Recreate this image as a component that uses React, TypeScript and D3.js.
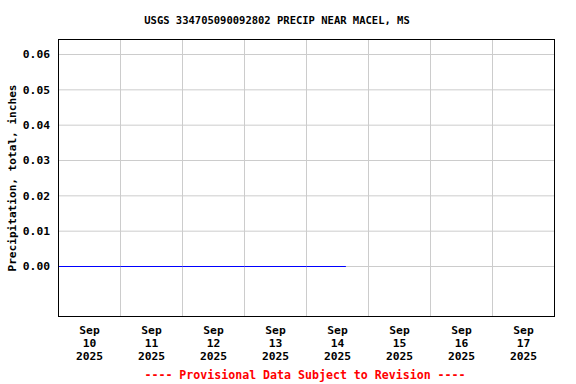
import React, { useEffect, useRef } from 'react';
import * as d3 from 'd3';

// precipitation readings (inches), all zero so far
const times = ['2025-09-10T00:00', '2025-09-11T00:00', '2025-09-12T00:00', '2025-09-13T00:00', '2025-09-14T00:00', '2025-09-14T15:15'];
const values = [0, 0, 0, 0, 0, 0];
const yTicks = [0, 0.01, 0.02, 0.03, 0.04, 0.05, 0.06];
const dayTicks = ['2025-09-10', '2025-09-11', '2025-09-12', '2025-09-13', '2025-09-14', '2025-09-15', '2025-09-16', '2025-09-17'];

const W = 576;
const H = 384;
const FONT = '"DejaVu Sans Mono", "Liberation Mono", monospace';

const App = () => {
  const svgRef = useRef<SVGSVGElement>(null);

  useEffect(() => {
    const svg = d3.select(svgRef.current);
    svg.selectAll('*').remove();

    const left = 58.5, right = 554.5, top = 39.5, bottom = 316.5;
    const parse = d3.timeParse('%Y-%m-%dT%H:%M');
    const parseDay = d3.timeParse('%Y-%m-%d');

    const x = d3.scaleTime()
      .domain([parseDay('2025-09-10')!, parseDay('2025-09-18')!])
      .range([left, right]);
    const y = d3.scaleLinear().domain([-0.01415, 0.064245]).range([bottom, top]);

    // grid: vertical lines at midnight
    const midnights = d3.timeDay.range(parseDay('2025-09-11')!, parseDay('2025-09-18')!);
    svg.append('g')
      .selectAll('line')
      .data(midnights)
      .enter()
      .append('line')
      .attr('x1', d => x(d)).attr('x2', d => x(d))
      .attr('y1', top).attr('y2', bottom)
      .attr('stroke', '#cccccc').attr('stroke-width', 1);

    svg.append('g')
      .selectAll('line')
      .data(yTicks)
      .enter()
      .append('line')
      .attr('x1', left).attr('x2', right)
      .attr('y1', d => y(d)).attr('y2', d => y(d))
      .attr('stroke', '#cccccc').attr('stroke-width', 1);

    // data line
    const pts = times.map((t, i) => ({ t: parse(t)!, v: values[i] }));
    const line = d3.line<{ t: Date; v: number }>().x(d => x(d.t)).y(d => y(d.v));
    svg.append('path')
      .datum(pts)
      .attr('d', line)
      .attr('fill', 'none')
      .attr('stroke', '#0000ff')
      .attr('stroke-width', 1);

    // frame
    svg.append('rect')
      .attr('x', left).attr('y', top)
      .attr('width', right - left).attr('height', bottom - top)
      .attr('fill', 'none').attr('stroke', '#000').attr('stroke-width', 1);

    // y tick labels
    svg.append('g')
      .selectAll('text')
      .data(yTicks)
      .enter()
      .append('text')
      .attr('x', 50)
      .attr('y', d => y(d))
      .attr('dy', '0.35em')
      .attr('text-anchor', 'end')
      .style('font-family', FONT)
      .style('font-weight', 'bold')
      .style('font-size', '11.3px')
      .text(d => d3.format('.2f')(d));

    // x tick labels (centered at noon)
    const fmtMon = d3.timeFormat('%b');
    const fmtDay = d3.timeFormat('%d');
    const fmtYear = d3.timeFormat('%Y');
    const xl = svg.append('g')
      .selectAll('text')
      .data(dayTicks.map(d => d3.timeHour.offset(parseDay(d)!, 12)))
      .enter()
      .append('text')
      .attr('text-anchor', 'middle')
      .style('font-family', FONT)
      .style('font-weight', 'bold')
      .style('font-size', '11.3px');
    [fmtMon, fmtDay, fmtYear].forEach((f, i) => {
      xl.append('tspan')
        .attr('x', d => x(d))
        .attr('y', 334 + i * 13)
        .text(d => f(d));
    });

    // y axis title
    svg.append('text')
      .attr('transform', `translate(16,${(top + bottom) / 2}) rotate(-90)`)
      .attr('text-anchor', 'middle')
      .style('font-family', FONT)
      .style('font-weight', 'bold')
      .style('font-size', '11.1px')
      .text('Precipitation, total, inches');

    // title
    svg.append('text')
      .attr('x', 277)
      .attr('y', 24)
      .attr('text-anchor', 'middle')
      .style('font-family', FONT)
      .style('font-weight', 'bold')
      .style('font-size', '10.5px')
      .text('USGS 334705090092802 PRECIP NEAR MACEL, MS');

    // footer
    svg.append('text')
      .attr('x', 305)
      .attr('y', 379)
      .attr('text-anchor', 'middle')
      .attr('fill', '#ff0000')
      .style('font-family', FONT)
      .style('font-weight', 'bold')
      .style('font-size', '11.6px')
      .text('---- Provisional Data Subject to Revision ----');
  }, []);

  return (
    <svg ref={svgRef} width={W} height={H} style={{ position: 'absolute', left: 0, top: 0, background: '#fff' }} />
  );
};

export default App;
